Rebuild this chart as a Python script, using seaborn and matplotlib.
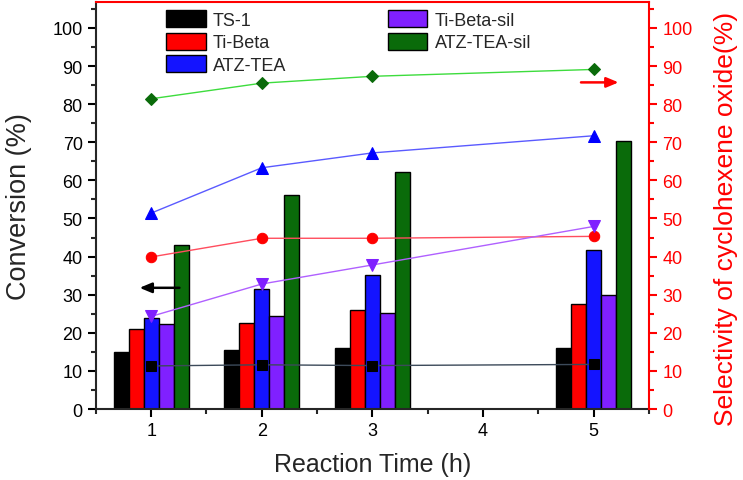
import numpy as np
import pandas as pd
import matplotlib
matplotlib.use("Agg")
import matplotlib.pyplot as plt
from matplotlib.ticker import MultipleLocator
import seaborn as sns

# reaction times (h) and samples
times = [1, 2, 3, 5]
samples = ["TS-1", "Ti-Beta", "ATZ-TEA", "Ti-Beta-sil", "ATZ-TEA-sil"]

# conversion (%) - bars, left axis
conv_ts1 = [15.0, 15.4, 15.9, 15.9]
conv_tibeta = [21.0, 22.6, 26.0, 27.6]
conv_atz = [24.0, 31.5, 35.2, 41.6]
conv_tibeta_sil = [22.3, 24.4, 25.1, 29.8]
conv_atz_sil = [43.0, 56.2, 62.2, 70.4]

# selectivity of cyclohexene oxide (%) - lines, right axis
sel_ts1 = [11.3, 11.6, 11.4, 11.7]
sel_tibeta = [39.9, 44.8, 44.8, 45.3]
sel_atz = [51.4, 63.3, 67.2, 71.7]
sel_tibeta_sil = [24.3, 32.8, 37.8, 47.9]
sel_atz_sil = [81.4, 85.5, 87.3, 89.1]

bar_colors = ["#000000", "#ff0000", "#1414ff", "#8020ff", "#0a6b0a"]
marker_colors = ["#000000", "#ff0000", "#0000ff", "#8020ff", "#0a6b0a"]
line_colors = ["#3c4a5a", "#ff4d5e", "#5a5aff", "#b060ff", "#3ddc3d"]
markers = ["s", "o", "^", "v", "D"]
marker_sizes = [7, 7.5, 8, 8, 6.5]

conv = [conv_ts1, conv_tibeta, conv_atz, conv_tibeta_sil, conv_atz_sil]
sel = [sel_ts1, sel_tibeta, sel_atz, sel_tibeta_sil, sel_atz_sil]

df = pd.DataFrame({
    "time": np.tile(times, len(samples)),
    "sample": np.repeat(samples, len(times)),
    "conversion": np.concatenate(conv),
})

sns.set_theme(style="ticks")
plt.rcParams["font.family"] = ["Liberation Sans", "DejaVu Sans"]

fig = plt.figure(figsize=(7.43, 4.81), dpi=100)
ax = fig.add_axes([0.129, 0.1476, 0.7445, 0.8462])

sns.barplot(data=df, x="time", y="conversion", hue="sample", hue_order=samples,
            palette=bar_colors, saturation=1, native_scale=True, width=0.68, gap=0,
            errorbar=None, edgecolor="black", linewidth=1, ax=ax)

ax2 = ax.twinx()
for i, name in enumerate(samples):
    sns.lineplot(x=times, y=sel[i], ax=ax2, color=line_colors[i], linewidth=1,
                 marker=markers[i], markersize=marker_sizes[i],
                 markerfacecolor=marker_colors[i], markeredgecolor=marker_colors[i],
                 legend=False)

ylim = (0, 106.8)
for a in (ax, ax2):
    a.set_xlim(0.5, 5.5)
    a.set_yticks(range(0, 101, 10))
    a.yaxis.set_minor_locator(MultipleLocator(5))
    a.set_ylim(*ylim)
ax.xaxis.set_major_locator(MultipleLocator(1))
ax.xaxis.set_minor_locator(MultipleLocator(0.5))

ax.tick_params(axis="both", which="major", direction="out", length=6, width=1.5,
               labelsize=13, colors="black")
ax.tick_params(axis="both", which="minor", direction="out", length=3.5, width=1.5)
ax2.tick_params(axis="y", which="major", direction="out", length=6, width=1.5,
                labelsize=13, colors="#ff0000")
ax2.tick_params(axis="y", which="minor", direction="out", length=3.5, width=1.5,
                colors="#ff0000")

for s in list(ax.spines.values()) + list(ax2.spines.values()):
    s.set_linewidth(1.5)
ax.spines["top"].set_visible(False)
ax.spines["right"].set_visible(False)
ax2.spines["left"].set_visible(False)
ax2.spines["bottom"].set_visible(False)
ax2.spines["right"].set_color("#ff0000")
ax2.spines["top"].set_color("#ff0000")

ax.set_xlabel("Reaction Time (h)", fontsize=18)
ax.xaxis.set_label_coords(0.5, -0.105)
ax.set_ylabel("Conversion (%)", fontsize=19.5)
ax.yaxis.set_label_coords(-0.115, 0.5)
ax2.set_ylabel("Selectivity of cyclohexene oxide(%)", fontsize=19, color="#ff0000")
ax2.yaxis.set_label_coords(1.117, 0.47)

# direction arrows
ax.annotate("", xy=(0.87, 31.8), xytext=(1.28, 31.8),
            arrowprops=dict(arrowstyle="-|>,head_length=0.6,head_width=0.25",
                            color="black", lw=1.8))
ax.annotate("", xy=(5.25, 85.7), xytext=(4.86, 85.7),
            arrowprops=dict(arrowstyle="-|>,head_length=0.6,head_width=0.25",
                            color="#ff0000", lw=1.8))

handles, labels = ax.get_legend_handles_labels()
if ax.get_legend() is not None:
    ax.get_legend().remove()
ax2.legend(handles, labels, ncol=2, loc="upper left", bbox_to_anchor=(0.127, 0.98),
           frameon=False, fontsize=13, handlelength=2.2, handleheight=1.1,
           handletextpad=0.4, labelspacing=0.2, columnspacing=5.6,
           borderpad=0, borderaxespad=0)

fig.savefig("out.png", dpi=100)
plt.close(fig)
